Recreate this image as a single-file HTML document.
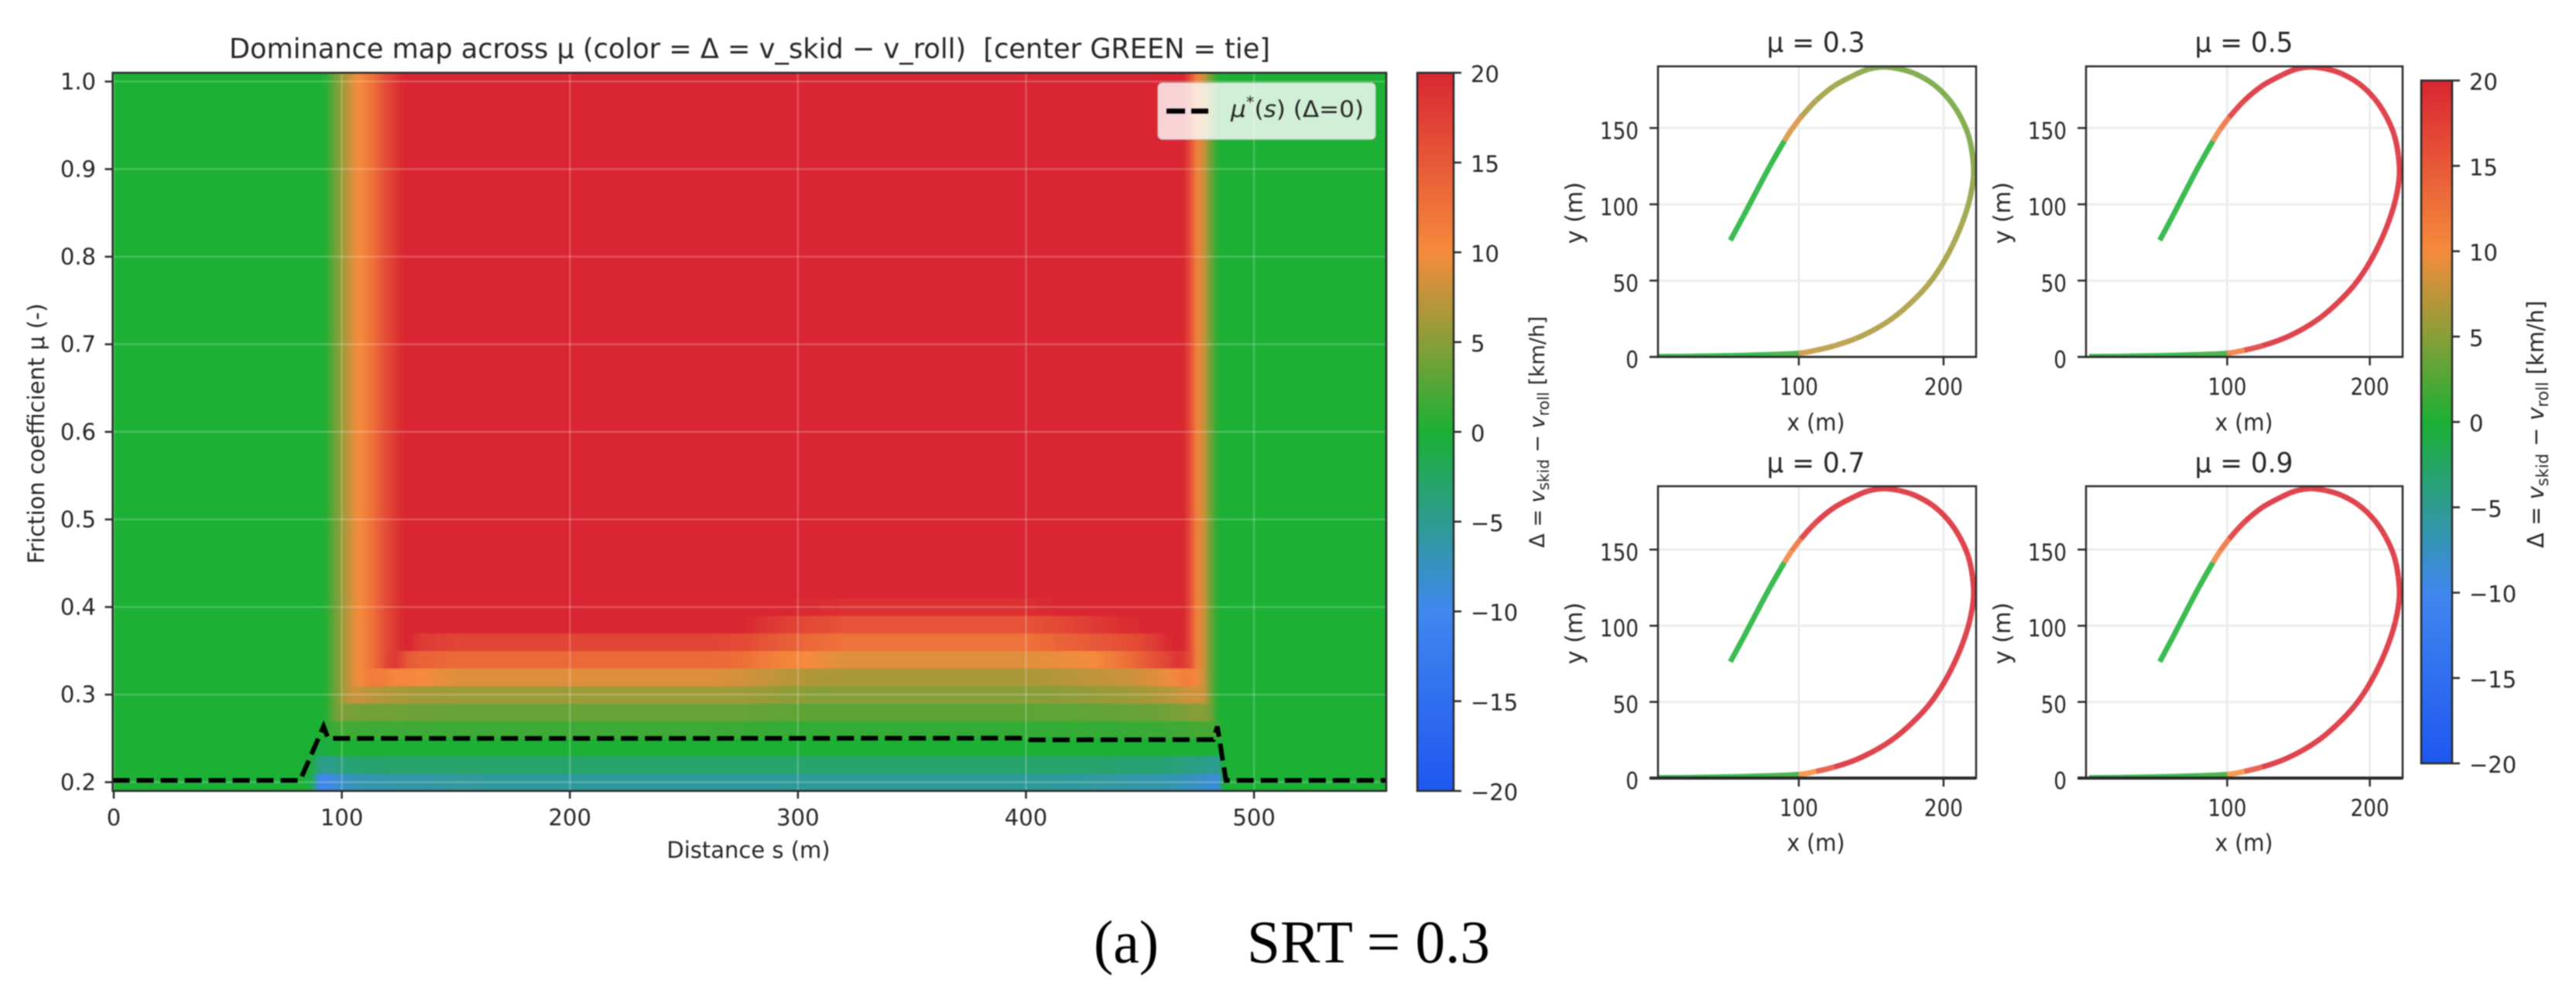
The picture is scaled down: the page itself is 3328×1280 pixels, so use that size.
<!DOCTYPE html>
<html>
<head>
<meta charset="utf-8">
<title>Dominance map across friction coefficient</title>
<style>
html,body{margin:0;padding:0;background:#fff;}
svg{display:block;filter:blur(0.7px);}
text{font-family:"DejaVu Sans","Liberation Sans",sans-serif;fill:#262626;white-space:pre;}
.cap{font-family:"Liberation Serif","DejaVu Serif",serif;fill:#000;}
.mt{font-size:29px;}
.pt{font-size:30px;}
.ptitle{font-size:36px;}
</style>
</head>
<body>
<svg id="fig" xmlns="http://www.w3.org/2000/svg" width="3328" height="1280" viewBox="0 0 3328 1280">
  <rect x="0" y="0" width="3328" height="1280" fill="#fff"/>
  <defs id="defs"></defs>
  <g id="main-plot"></g>
  <g id="main-cbar"></g>
  <g id="panels"></g>
  <g id="side-cbar"></g>

  <text x="296" y="75" font-size="36" textLength="1345" lengthAdjust="spacingAndGlyphs">Dominance map across μ (color = Δ = v_skid − v_roll)  [center GREEN = tie]</text>
  <text class="mt" x="967" y="1108" text-anchor="middle">Distance s (m)</text>
  <text class="mt" transform="translate(57,560) rotate(-90)" text-anchor="middle">Friction coefficient μ (-)</text>
  <text transform="translate(1995,558) rotate(-90)" text-anchor="middle" font-size="27"><tspan font-style="normal">Δ = </tspan><tspan font-style="italic">v</tspan><tspan font-size="20" dy="6">skid</tspan><tspan dy="-6"> − </tspan><tspan font-style="italic">v</tspan><tspan font-size="20" dy="6">roll</tspan><tspan dy="-6"> [km/h]</tspan></text>

  <g>
    <rect x="1496" y="107" width="281" height="73" rx="6" fill="#fff" fill-opacity="0.8" stroke="#ccc" stroke-opacity="0.7" stroke-width="1.5"/>
    <line x1="1507" x2="1561" y1="143.5" y2="143.5" stroke="#000" stroke-width="6.5" stroke-dasharray="24 8"/>
    <text x="1590" y="151" font-size="29" textLength="172" lengthAdjust="spacingAndGlyphs"><tspan font-style="italic">μ</tspan><tspan font-size="20" dy="-12">*</tspan><tspan dy="12">(</tspan><tspan font-style="italic">s</tspan><tspan>) (Δ=0)</tspan></text>
  </g>

  <text class="ptitle" x="2346" y="67" text-anchor="middle" textLength="127" lengthAdjust="spacingAndGlyphs">μ = 0.3</text>
  <text class="ptitle" x="2899" y="67" text-anchor="middle" textLength="127" lengthAdjust="spacingAndGlyphs">μ = 0.5</text>
  <text class="ptitle" x="2346" y="610" text-anchor="middle" textLength="127" lengthAdjust="spacingAndGlyphs">μ = 0.7</text>
  <text class="ptitle" x="2899" y="610" text-anchor="middle" textLength="127" lengthAdjust="spacingAndGlyphs">μ = 0.9</text>

  <text class="pt" x="2346" y="556" text-anchor="middle" textLength="75" lengthAdjust="spacingAndGlyphs">x (m)</text>
  <text class="pt" x="2899" y="556" text-anchor="middle" textLength="75" lengthAdjust="spacingAndGlyphs">x (m)</text>
  <text class="pt" x="2346" y="1099" text-anchor="middle" textLength="75" lengthAdjust="spacingAndGlyphs">x (m)</text>
  <text class="pt" x="2899" y="1099" text-anchor="middle" textLength="75" lengthAdjust="spacingAndGlyphs">x (m)</text>

  <text class="pt" transform="translate(2044,275) rotate(-90)" text-anchor="middle">y (m)</text>
  <text class="pt" transform="translate(2597,275) rotate(-90)" text-anchor="middle">y (m)</text>
  <text class="pt" transform="translate(2044,818) rotate(-90)" text-anchor="middle">y (m)</text>
  <text class="pt" transform="translate(2597,818) rotate(-90)" text-anchor="middle">y (m)</text>

  <text transform="translate(3286,548) rotate(-90)" text-anchor="middle" font-size="29"><tspan>Δ = </tspan><tspan font-style="italic">v</tspan><tspan font-size="21" dy="6">skid</tspan><tspan dy="-6"> − </tspan><tspan font-style="italic">v</tspan><tspan font-size="21" dy="6">roll</tspan><tspan dy="-6"> [km/h]</tspan></text>

  <text class="cap" x="1413" y="1243" font-size="78" textLength="84" lengthAdjust="spacingAndGlyphs">(a)</text>
  <text class="cap" x="1611" y="1243" font-size="78" textLength="314" lengthAdjust="spacingAndGlyphs">SRT = 0.3</text>
</svg>

<script>
// ---------- colormap ----------
const cmapValues = [-20, -10, 0, 10, 20];
const cmapColors = ['#1e57f0', '#4087ee', '#1bb034', '#f58b3c', '#d92632'];

// ---------- heatmap data ----------
const sCols = [0,40,84,87,90,93,96,99,102,105,108,111,114,117,120,123,126,129,135,150,200,260,275,290,305,320,350,400,415,430,445,455,462,466,469,472,475,478,481,484,487,500,558];
const muRows = [0.20,0.22,0.24,0.26,0.28,0.30,0.32,0.34,0.36,0.38,0.40,0.42,0.44,0.46,0.48,0.50,0.52,0.54,0.56,0.58,0.60,0.62,0.64,0.66,0.68,0.70,0.72,0.74,0.76,0.78,0.80,0.82,0.84,0.86,0.88,0.90,0.92,0.94,0.96,0.98,1.00];
const plateauRow = [0,0,0,0,0,0.5,3,5,7,9,10,11.5,13,15,16.5,18,19.5,20,20,20,20,20,20,20,20,20,20,20,20,20,20,20,20,20,20,16,11,8,4,0.5,0,0,0];
const lowRows = [
 [0,0,0,-2,-9.5,-10,-9,-8,-7.5,-7,-6.8,-6.6,-6.5,-6.4,-6.3,-6.2,-6.1,-6,-6,-5.6,-5.5,-5.5,-5.5,-5.5,-5.4,-5.3,-5.3,-5.4,-5.5,-5.7,-6,-6.3,-6.5,-6.7,-7,-7.2,-7.5,-8,-8.5,-9,0,0,0],
 [0,0,0,-1,-4,-5,-4.5,-4,-3.5,-3.2,-3.2,-3.1,-3.1,-3.1,-3,-3,-3,-3,-3,-3,-3,-3,-3,-3,-3,-3,-3,-3,-3,-3,-3.2,-3.3,-3.5,-3.7,-4,-4.2,-4.3,-4.5,-4.8,-5,0,0,0],
 [0,0,0,0,-1,-0.5,-0.3,0,0,0,0,0,0,0,0,0,0,0,0,0,0,0,0,0,0,0,0,0,0,0,0,0,0,0,0,0,0,0,0,0,0,0,0],
 [0,0,0,0,0,0.5,1.5,1.8,1.8,1.7,1.6,1.5,1.5,1.5,1.5,1.5,1.5,1.5,1.5,1.5,1.5,1.5,1.4,1.2,1,1,1,1,1.1,1.2,1.3,1.4,1.5,1.6,1.7,1.8,1.9,2,2,1.5,0,0,0],
 [0,0,0,0,0,0.5,3,4.5,4.5,4.2,4.1,4,4,4,4,3.9,3.9,3.8,3.8,3.5,3.5,3.5,3.5,3.2,3,3,3,3,3.1,3.2,3.5,3.7,4,4.3,4.5,4.8,5,5,4,0.5,0,0,0],
 [0,0,0,0,0,0.5,3,5,7,8,8,7.5,7.2,7,6.8,6.6,6.5,6.4,6.2,6,6,6,6,5.5,5,5,5,5,5.2,5.5,6,6.5,7,7.5,8,8.2,8.2,8,4,0.5,0,0,0],
 [0,0,0,0,0,0.5,3,5,7,9,10,11,11.5,11.5,11,10.5,10.5,10.5,10,9,9,9,8.5,7.5,6.8,6.5,6.5,6.5,7,7.5,8,8.8,9.5,10.5,11,11,10.5,8,4,0.5,0,0,0],
 [0,0,0,0,0,0.5,3,5,7,9,10,11.5,13,15,17,18,17,15,14,13.5,13.5,13.5,13,11,10,9,9,9,9.5,10,13,15.5,17,18.5,18,16,11,8,4,0.5,0,0,0],
 [0,0,0,0,0,0.5,3,5,7,9,10,11.5,13,15,16.5,18,19.5,20,18,17,17,17,16.5,15,13.5,12.5,12.5,12.5,14,15,16,17.5,19.5,20,20,16,11,8,4,0.5,0,0,0],
 [0,0,0,0,0,0.5,3,5,7,9,10,11.5,13,15,16.5,18,19.5,20,20,20,20,20,20,18,16.5,15.5,15.5,15.5,16.5,18,19.5,20,20,20,20,16,11,8,4,0.5,0,0,0],
 [0,0,0,0,0,0.5,3,5,7,9,10,11.5,13,15,16.5,18,19.5,20,20,20,20,20,20,20,19.5,19,19,19,20,20,20,20,20,20,20,16,11,8,4,0.5,0,0,0]
];

// ---------- critical friction line ----------
const criticalS = [-0.5,81.7,92,94,250,400,402,482.2,483.9,487.7,558];
const criticalMu = [0.202,0.202,0.2636,0.25,0.25,0.2503,0.2483,0.2486,0.2636,0.202,0.202];

// ---------- main axes ticks ----------
const mainXTicks = [0,100,200,300,400,500];
const mainXLabels = ['0','100','200','300','400','500'];
const mainYTicks = [0.2,0.3,0.4,0.5,0.6,0.7,0.8,0.9,1.0];
const mainYLabels = ['0.2','0.3','0.4','0.5','0.6','0.7','0.8','0.9','1.0'];
const cbarTicks = [-20,-15,-10,-5,0,5,10,15,20];
const cbarLabels = ['−20','−15','−10','−5','0','5','10','15','20'];

// ---------- trajectory data ----------
const trajX = [3.2,25,53.2,80,100,112,124.6,139,153,165.7,178,189,198,206,213,218,220.7,220,217,211,203,192.5,180,169,158.6,148,139,124.6,112,101.4,95,90,80,71,62,52.7];
const trajY = [0.2,0.4,0.8,1.5,2.4,4.4,7.3,11.9,18.3,26,36,47,59,72.7,88,103,118.6,132,145.7,158.5,169.6,179,185.7,188.8,190,188.5,185,177.7,168,157,149,141.5,125,109,92.7,76.4];
const deltaMu03 = [0,0,0,0,1,8,7,7,6.5,6.5,6.5,6.5,6,6,6,5.5,5,4.5,4,4,3.8,3.8,3.8,4,4,4,4.5,5.5,6,6.5,8.5,8.5,0,0,0,0];
const deltaMu05 = [0,0,0,0,1,12,18,20,20,20,20,20,20,20,20,20,20,20,20,20,20,20,20,20,20,20,20,20,20,19,13,11,0,0,0,0];
const deltaMu07 = [0,0,0,0,1,10,16,20,20,20,20,20,20,20,20,20,20,20,20,20,20,20,20,20,20,20,20,20,20,19,13,11,0,0,0,0];
const deltaMu09 = [0,0,0,0,1,10,16,20,20,20,20,20,20,20,20,20,20,20,20,20,20,20,20,20,20,20,20,20,20,19,13,11,0,0,0,0];
const panelXTicks = [100,200];
const panelXLabels = ['100','200'];
const panelYTicks = [0,50,100,150];
const panelYLabels = ['0','50','100','150'];

// ---------- layout ----------
const NS = 'http://www.w3.org/2000/svg';
const defs = document.getElementById('defs');
const MAIN = {l:145.5, r:1791, t:94, b:1021.6, x0:-0.5, x1:558, y0:0.19, y1:1.01};
const PANELS = [
  {l:2142,r:2553,t:85.7,b:461,x0:2.7,x1:222.5,y0:0,y1:190.4,deltas:deltaMu03,id:'mu-0-3',sw:2.5},
  {l:2695,r:3104,t:85.7,b:461,x0:1,x1:223,y0:0,y1:190.4,deltas:deltaMu05,id:'mu-0-5',sw:2.5},
  {l:2142,r:2553,t:628,b:1005,x0:2.7,x1:222.5,y0:0,y1:191.6,deltas:deltaMu07,id:'mu-0-7',sw:4},
  {l:2695,r:3104,t:628,b:1005,x0:1,x1:223,y0:0,y1:191.6,deltas:deltaMu09,id:'mu-0-9',sw:4}
];

function mk(parent, tag, attrs, text){
  const el = document.createElementNS(NS, tag);
  for (const k in attrs) el.setAttribute(k, attrs[k]);
  if (text !== undefined) el.textContent = text;
  parent.appendChild(el);
  return el;
}
function hexToRgb(h){return [parseInt(h.slice(1,3),16),parseInt(h.slice(3,5),16),parseInt(h.slice(5,7),16)];}
function deltaColor(v){
  const c = Math.max(cmapValues[0], Math.min(cmapValues[cmapValues.length-1], v));
  for (let i = 0; i < cmapValues.length-1; i++){
    if (c <= cmapValues[i+1]){
      const t = (c-cmapValues[i])/(cmapValues[i+1]-cmapValues[i]);
      const a = hexToRgb(cmapColors[i]), b = hexToRgb(cmapColors[i+1]);
      return 'rgb('+a.map((q,j)=>Math.round(q+(b[j]-q)*t)).join(',')+')';
    }
  }
  return cmapColors[cmapColors.length-1];
}
function axisX(ax, v){return ax.l+(v-ax.x0)/(ax.x1-ax.x0)*(ax.r-ax.l);}
function axisY(ax, v){return ax.b-(v-ax.y0)/(ax.y1-ax.y0)*(ax.b-ax.t);}
function rowValues(i){return i < lowRows.length ? lowRows[i] : plateauRow;}

// ---------- main heatmap ----------
(function(){
  const g = document.getElementById('main-plot');
  const cp = mk(defs,'clipPath',{id:'main-clip'});
  mk(cp,'rect',{x:MAIN.l,y:MAIN.t,width:MAIN.r-MAIN.l,height:MAIN.b-MAIN.t});
  const f = mk(defs,'filter',{id:'hblur',x:'-2%',y:'-2%',width:'104%',height:'104%',filterUnits:'objectBoundingBox'});
  mk(f,'feGaussianBlur',{stdDeviation:'1 0.6'});
  const clip = mk(g,'g',{'clip-path':'url(#main-clip)'});
  const cells = mk(clip,'g',{filter:'url(#hblur)'});
  
  
  muRows.forEach(function(mu, r){
    const vals = rowValues(r);
    const yTop = axisY(MAIN, mu+0.01), yBot = axisY(MAIN, mu-0.01);
    const y0 = r === muRows.length-1 ? yTop-30 : yTop;
    const y1 = r === 0 ? yBot+30 : yBot;
    for (let c = 0; c < sCols.length-1; c++){
      const x0 = axisX(MAIN, sCols[c]) - (c === 0 ? 30 : 0);
      const x1 = axisX(MAIN, sCols[c+1]) + (c === sCols.length-2 ? 30 : 0);
      const id = 'cg-'+r+'-'+c;
      const grad = mk(defs,'linearGradient',{id:id,gradientUnits:'userSpaceOnUse',x1:x0,x2:x1,y1:0,y2:0});
      mk(grad,'stop',{offset:0,'stop-color':deltaColor(vals[c])});
      mk(grad,'stop',{offset:1,'stop-color':deltaColor(vals[c+1])});
      const cell = mk(cells,'rect',{x:x0-0.3,y:y0-0.3,width:x1-x0+0.6,height:y1-y0+0.6,fill:'url(#'+id+')'});
      
      
    }
  });
  // grid
  mainXTicks.forEach(function(t){
    const ln = mk(clip,'line',{x1:axisX(MAIN,t),x2:axisX(MAIN,t),y1:MAIN.t,y2:MAIN.b,stroke:'#fff','stroke-opacity':0.2,'stroke-width':2.5});
    
    
  });
  mainYTicks.forEach(function(t){
    const ln = mk(clip,'line',{x1:MAIN.l,x2:MAIN.r,y1:axisY(MAIN,t),y2:axisY(MAIN,t),stroke:'#fff','stroke-opacity':0.2,'stroke-width':2.5});
    
    
  });
  // critical friction line
  const pts = criticalS.map(function(s,i){return axisX(MAIN,s)+','+axisY(MAIN,criticalMu[i]);}).join(' ');
  const crit = mk(clip,'polyline',{points:pts,fill:'none',stroke:'#000','stroke-width':6,'stroke-dasharray':'22 9'});
  
  
  // spines
  const box = mk(g,'rect',{x:MAIN.l,y:MAIN.t,width:MAIN.r-MAIN.l,height:MAIN.b-MAIN.t,fill:'none',stroke:'#2a2a2a','stroke-width':2.5});
  
  
  // ticks
  mainXTicks.forEach(function(t,i){
    const x = axisX(MAIN,t);
    const tk = mk(g,'line',{x1:x,x2:x,y1:MAIN.b,y2:MAIN.b+10,stroke:'#2a2a2a','stroke-width':2.5});
    
    
    const lb = mk(g,'text',{x:x,y:1066,'text-anchor':'middle','class':'mt'},mainXLabels[i]);
    
    
  });
  mainYTicks.forEach(function(t,i){
    const y = axisY(MAIN,t);
    const tk = mk(g,'line',{x1:MAIN.l-10,x2:MAIN.l,y1:y,y2:y,stroke:'#2a2a2a','stroke-width':2.5});
    
    
    const lb = mk(g,'text',{x:124,y:y+10,'text-anchor':'end','class':'mt'},mainYLabels[i]);
    
    
  });
})();

// ---------- colorbars ----------
function drawColorbar(groupId, gradId, box, labelX){
  const g = document.getElementById(groupId);
  const grad = mk(defs,'linearGradient',{id:gradId,x1:0,y1:1,x2:0,y2:0});
  cmapValues.forEach(function(v,i){
    mk(grad,'stop',{offset:(v-cmapValues[0])/(cmapValues[cmapValues.length-1]-cmapValues[0]),'stop-color':cmapColors[i]});
  });
  const rect = mk(g,'rect',{x:box.l,y:box.t,width:box.r-box.l,height:box.b-box.t,fill:'url(#'+gradId+')',stroke:'#2a2a2a','stroke-width':2.5});
  
  
  cbarTicks.forEach(function(t,i){
    const y = box.b-(t-cbarTicks[0])/(cbarTicks[cbarTicks.length-1]-cbarTicks[0])*(box.b-box.t);
    const tk = mk(g,'line',{x1:box.r,x2:box.r+10,y1:y,y2:y,stroke:'#2a2a2a','stroke-width':2.5});
    
    
    const lb = mk(g,'text',{x:labelX,y:y+12,'class':'mt'},cbarLabels[i]);
    
    
  });
}
drawColorbar('main-cbar','cbar-main',{l:1831,r:1878,t:94,b:1021.6},1900);
drawColorbar('side-cbar','cbar-side',{l:3128,r:3168,t:104,b:986},3190);

// ---------- trajectory panels ----------
(function(){
  const root = document.getElementById('panels');
  PANELS.forEach(function(ax){
    const g = mk(root,'g',{});
    
    
    const cid = 'clip-'+ax.id;
    const cp = mk(defs,'clipPath',{id:cid});
    mk(cp,'rect',{x:ax.l,y:ax.t,width:ax.r-ax.l,height:ax.b-ax.t});
    panelXTicks.forEach(function(t){
      const ln = mk(g,'line',{x1:axisX(ax,t),x2:axisX(ax,t),y1:ax.t,y2:ax.b,stroke:'#e9e9e9','stroke-width':2.5});
      
      
    });
    panelYTicks.forEach(function(t){
      const ln = mk(g,'line',{x1:ax.l,x2:ax.r,y1:axisY(ax,t),y2:axisY(ax,t),stroke:'#ededed','stroke-width':3});
      
      
    });
    const curve = mk(g,'g',{'clip-path':'url(#'+cid+')',opacity:0.86,fill:'none','stroke-width':7,'stroke-linecap':'butt'});
    
    
    const px = trajX.map(function(v){return axisX(ax,v);});
    const py = trajY.map(function(v){return axisY(ax,v);});
    for (let i = 0; i < px.length-1; i++){
      const a = Math.max(i-1,0), d = Math.min(i+2,px.length-1);
      const c1x = px[i]+(px[i+1]-px[a])/6, c1y = py[i]+(py[i+1]-py[a])/6;
      const c2x = px[i+1]-(px[d]-px[i])/6, c2y = py[i+1]-(py[d]-py[i])/6;
      const seg = mk(curve,'path',{d:'M'+px[i]+' '+py[i]+'C'+c1x+' '+c1y+' '+c2x+' '+c2y+' '+px[i+1]+' '+py[i+1],stroke:deltaColor(ax.deltas[i+1])});
      
      
    }
    const frame = mk(g,'rect',{x:ax.l,y:ax.t,width:ax.r-ax.l,height:ax.b-ax.t,fill:'none',stroke:'#2a2a2a','stroke-width':2.5});
    
    
    const base = mk(g,'line',{x1:ax.l-11,x2:ax.r,y1:ax.b,y2:ax.b,stroke:'#2a2a2a','stroke-width':ax.sw});
    
    
    panelXTicks.forEach(function(t,i){
      const x = axisX(ax,t);
      const tk = mk(g,'line',{x1:x,x2:x,y1:ax.b,y2:ax.b+11,stroke:'#2a2a2a','stroke-width':2.5});
      
      
      const lb = mk(g,'text',{x:x,y:ax.b+49,'text-anchor':'middle','class':'pt',textLength:50,lengthAdjust:'spacingAndGlyphs'},panelXLabels[i]);
      
      
    });
    panelYTicks.forEach(function(t,i){
      const y = axisY(ax,t);
      const tk = mk(g,'line',{x1:ax.l-11,x2:ax.l,y1:y,y2:y,stroke:'#2a2a2a','stroke-width':2.5});
      
      
      const w = panelYLabels[i].length*16.7;
      const lb = mk(g,'text',{x:ax.l-25,y:y+14,'text-anchor':'end','class':'pt',textLength:w,lengthAdjust:'spacingAndGlyphs'},panelYLabels[i]);
      
      
    });
  });
})();
</script>
</body>
</html>
